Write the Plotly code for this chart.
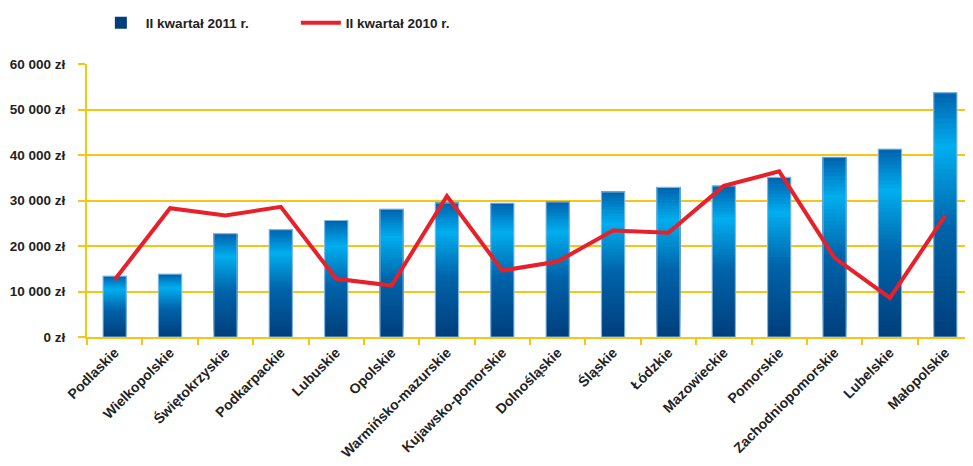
import plotly.graph_objects as go

categories = ["Podlaskie", "Wielkopolskie", "Świętokrzyskie", "Podkarpackie", "Lubuskie",
              "Opolskie", "Warmińsko-mazurskie", "Kujawsko-pomorskie", "Dolnośląskie",
              "Śląskie", "Łódzkie", "Mazowieckie", "Pomorskie", "Zachodniopomorskie",
              "Lubelskie", "Małopolskie"]
q2_2011 = [13400, 13800, 22700, 23600, 25600, 28100, 29500, 29400, 29700,
           31900, 32900, 33200, 35100, 39500, 41300, 53700]
q2_2010 = [12600, 28300, 26700, 28600, 12800, 11300, 31000, 14600, 16600,
           23400, 22900, 33200, 36400, 17400, 8600, 26700]
tick_vals = [0, 10000, 20000, 30000, 40000, 50000, 60000]
tick_text = ["0 zł", "10 000 zł", "20 000 zł", "30 000 zł", "40 000 zł", "50 000 zł", "60 000 zł"]

GOLD = "#F5C518"
FONT = "Liberation Sans, Arial, sans-serif"

stops = [(0.0, (0, 62, 124)), (0.45, (0, 100, 170)), (0.78, (0, 174, 239)), (1.0, (0, 98, 173))]


def grad(f):
    for (f0, c0), (f1, c1) in zip(stops[:-1], stops[1:]):
        if f0 <= f <= f1:
            t = (f - f0) / (f1 - f0) if f1 > f0 else 0
            return "rgb(%d,%d,%d)" % tuple(round(a + (b - a) * t) for a, b in zip(c0, c1))
    return "rgb(%d,%d,%d)" % stops[-1][1]


fig = go.Figure()
N = 48
W = 0.42
for k in range(N):
    f = k / N
    bases = [v * f for v in q2_2011]
    heights = [v - b for v, b in zip(q2_2011, bases)]
    fig.add_trace(go.Bar(
        x=categories, y=heights, base=bases, width=W,
        marker=dict(color=grad(f + 0.5 / N), line=dict(width=0)),
        name="II kwartał 2011 r.", showlegend=(k == 0), legendgroup="b",
        legendrank=1, hoverinfo="skip"))
# light outline around each bar
fig.add_trace(go.Bar(
    x=categories, y=q2_2011, width=W,
    marker=dict(color="rgba(0,0,0,0)", line=dict(width=1.2, color="rgba(140,190,230,0.9)")),
    showlegend=False, name="II kwartał 2011 r."))

fig.add_trace(go.Scatter(
    x=categories, y=q2_2010, mode="lines", name="II kwartał 2010 r.",
    line=dict(color="#E8202A", width=4), legendrank=2))

fig.update_layout(
    width=965, height=458,
    margin=dict(l=79, r=0, t=56, b=129, autoexpand=False),
    paper_bgcolor="white", plot_bgcolor="white",
    barmode="overlay",
    font=dict(family=FONT, size=13, color="#222"),
    legend=dict(orientation="h", x=0.01, xanchor="left", y=1.15, yanchor="middle",
                font=dict(size=13.5, color="#222", family=FONT, weight="bold"),
                entrywidth=145, itemwidth=40, traceorder="normal"),
    xaxis=dict(showgrid=False, tickangle=-45, tickson="boundaries", ticks="outside",
               ticklen=6, tickcolor=GOLD, tickwidth=1.5, showline=True, linecolor=GOLD,
               linewidth=2, automargin=False,
               tickfont=dict(size=14, color="#222", family=FONT, weight="bold"),
               range=[-0.5, 15.5]),
    yaxis=dict(range=[0, 60000], tickvals=tick_vals, ticktext=tick_text,
               showgrid=True, gridcolor=GOLD, gridwidth=1.5, ticks="outside", ticklen=7,
               tickcolor=GOLD, tickwidth=1.5, showline=True, linecolor=GOLD, linewidth=2,
               zeroline=False, automargin=False, ticklabelstandoff=10,
               tickfont=dict(size=13.5, color="#222", family=FONT, weight="bold")),
)

fig.write_html("out.html")
